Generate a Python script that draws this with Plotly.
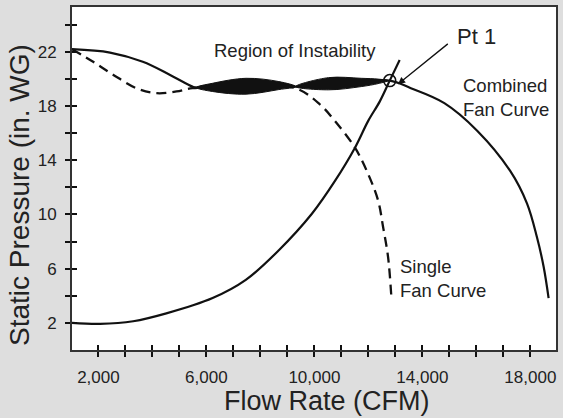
import plotly.graph_objects as go

# ---- data ----
combined_x = [1022, 2431, 3645, 4638, 5484, 5631, 7470, 9309, 10886, 12791,
              13575, 14814, 16039, 17253, 17878, 18245, 18492, 18676]
combined_y = [22.19, 21.94, 21.26, 20.31, 19.43, 19.36, 19.47, 19.43, 19.69, 19.87,
              19.31, 18.21, 16.16, 13.21, 10.80, 8.31, 6.14, 3.83]

single_x = [1022, 1806, 2541, 3424, 4160, 4895, 5484, 7470, 9297, 10217, 10769,
            11504, 11994, 12361, 12545, 12729, 12850]
single_y = [22.19, 21.26, 20.31, 19.29, 18.94, 19.07, 19.31, 19.40, 19.31, 18.09, 16.87,
            14.92, 12.97, 11.02, 9.07, 6.87, 3.95]

system_x = [1022, 2063, 3288, 4516, 6230, 7459, 8684, 9908, 10769, 11504,
            11994, 12424, 12791, 13159]
system_y = [2.0, 1.93, 2.12, 2.70, 3.83, 5.17, 7.36, 10.05, 12.49, 14.92,
            16.90, 18.34, 19.87, 21.39]

blob1_x = [5631, 6219, 7470, 8684, 9309, 8684, 7470, 6219, 5631]
blob1_y = [19.36, 19.67, 20.04, 19.80, 19.43, 19.21, 18.87, 19.07, 19.36]
blob2_x = [9309, 10522, 11736, 12361, 12730, 12361, 11736, 10522, 9309]
blob2_y = [19.43, 20.09, 20.04, 19.98, 19.87, 19.65, 19.43, 19.19, 19.43]

pt1_x = [12791]
pt1_y = [19.87]

x_tick_vals = list(range(2000, 19000, 1000))
x_tick_text = [f"{v:,}" if v in (2000, 6000, 10000, 14000, 18000) else "" for v in x_tick_vals]
y_tick_vals = list(range(2, 26, 2))
y_tick_text = [str(v) if v in (2, 6, 10, 14, 18, 22) else "" for v in y_tick_vals]

x_range = [1022, 18950]
y_range = [0, 25.3]

FONT = "Liberation Sans, Arial, sans-serif"
INK = "#111111"
TXT = "#222222"

fig = go.Figure()

fig.add_trace(go.Scatter(x=system_x, y=system_y, mode="lines",
                         line=dict(color=INK, width=2.2, shape="spline"), hoverinfo="skip"))
fig.add_trace(go.Scatter(x=single_x, y=single_y, mode="lines",
                         line=dict(color=INK, width=2.3, shape="spline", dash="10px,6px"),
                         hoverinfo="skip"))
fig.add_trace(go.Scatter(x=combined_x, y=combined_y, mode="lines",
                         line=dict(color=INK, width=2.2, shape="spline"), hoverinfo="skip"))
for bx, by in ((blob1_x, blob1_y), (blob2_x, blob2_y)):
    fig.add_trace(go.Scatter(x=bx, y=by, mode="lines", fill="toself", fillcolor=INK,
                             line=dict(color=INK, width=1, shape="spline"), hoverinfo="skip"))
fig.add_trace(go.Scatter(x=pt1_x, y=pt1_y, mode="markers",
                         marker=dict(symbol="circle-open", size=12, color=INK,
                                     line=dict(width=1.5, color=INK)), hoverinfo="skip"))

# dummy traces to create overlay axes (inward half of the crossing ticks)
fig.add_trace(go.Scatter(x=[None], y=[None], xaxis="x2", yaxis="y", showlegend=False))
fig.add_trace(go.Scatter(x=[None], y=[None], xaxis="x", yaxis="y2", showlegend=False))

axis_common = dict(showgrid=False, zeroline=False, ticks="outside", ticklen=5, tickwidth=2,
                   tickcolor=INK, tickfont=dict(family=FONT, size=17, color=TXT))

fig.update_layout(
    width=563, height=418,
    margin=dict(l=72, r=5, t=5, b=68),
    paper_bgcolor="#dedede", plot_bgcolor="white",
    showlegend=False,
    xaxis=dict(range=x_range, tickmode="array", tickvals=x_tick_vals, ticktext=x_tick_text,
               showline=True, linecolor="#333333", linewidth=2, mirror=True,
               ticklabelstandoff=6, **axis_common),
    yaxis=dict(range=y_range, tickmode="array", tickvals=y_tick_vals, ticktext=y_tick_text,
               showline=True, linecolor="#333333", linewidth=2, mirror=True,
               ticklabelstandoff=5, **axis_common),
    xaxis2=dict(range=x_range, overlaying="x", anchor="y", side="bottom", tickmode="array",
                tickvals=x_tick_vals, showticklabels=False, showgrid=False, zeroline=False,
                showline=False, ticks="inside", ticklen=5, tickwidth=2, tickcolor=INK),
    yaxis2=dict(range=y_range, overlaying="y", anchor="x", side="left", tickmode="array",
                tickvals=y_tick_vals, showticklabels=False, showgrid=False, zeroline=False,
                showline=False, ticks="inside", ticklen=5, tickwidth=2, tickcolor=INK),
)

ann_font = dict(family=FONT, size=18.5, color=TXT)
fig.add_annotation(x=9290, y=22.07, text="Region of Instability", showarrow=False,
                   xanchor="center", yanchor="middle", font=ann_font)
fig.add_annotation(x=15193, y=23.09, text="Pt 1", showarrow=False,
                   xanchor="left", yanchor="middle", font=dict(family=FONT, size=22, color=TXT))
fig.add_annotation(x=13097, y=19.6, ax=14998, ay=22.67, axref="x", ayref="y", text="",
                   showarrow=True, arrowhead=2, arrowsize=1.1, arrowwidth=1.3, arrowcolor=INK)
fig.add_annotation(x=15414, y=18.63, text="Combined<br>Fan Curve", showarrow=False,
                   xanchor="left", yanchor="middle", align="left", font=ann_font)
fig.add_annotation(x=13097, y=5.31, text="Single<br>Fan Curve", showarrow=False,
                   xanchor="left", yanchor="middle", align="left", font=ann_font)

# axis titles
fig.add_annotation(xref="paper", yref="paper", x=0.526, y=0, yshift=-51,
                   text="Flow Rate (CFM)", showarrow=False, xanchor="center", yanchor="middle",
                   font=dict(family=FONT, size=27, color=TXT))
fig.add_annotation(xref="paper", yref="paper", x=0, y=0.452, xshift=-52,
                   text="Static Pressure (in. WG)", showarrow=False, textangle=-90,
                   xanchor="center", yanchor="middle",
                   font=dict(family=FONT, size=28, color=TXT))

fig.write_html("out.html", config={"displayModeBar": False},
               post_script="document.body.style.margin='0';document.body.style.overflow='hidden';")
